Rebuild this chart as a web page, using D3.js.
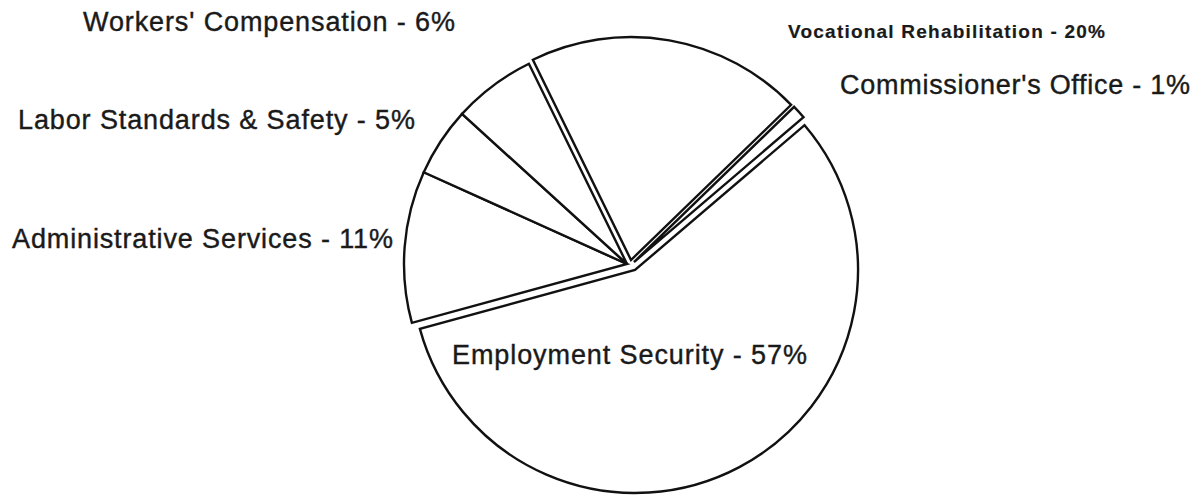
<!DOCTYPE html>
<html>
<head>
<meta charset="utf-8">
<script src="https://cdn.jsdelivr.net/npm/d3@7"></script>
<style>
  body { margin: 0; background: #fff; }
  .slice { fill: #fff; stroke: #111; stroke-width: 2.4; stroke-linejoin: miter; }
  .label { font-family: "Liberation Sans", Arial, sans-serif; font-size: 27px; fill: #1a1a1a;
           stroke: #1a1a1a; stroke-width: 0.4; }
  .label.small { font-size: 19px; font-weight: bold; stroke-width: 0.2; }
</style>
</head>
<body>
<div id="chart"></div>
<script>
// data, in drawing order (clockwise from upper right)
const categories = ["Employment Security", "Administrative Services", "Labor Standards & Safety",
                    "Workers' Compensation", "Vocational Rehabilitation", "Commissioner's Office"];
const shares = [57, 11, 5, 6, 20, 1];

// set the dimensions
const width = 1201, height = 501;
const cx = 627, cy = 264, radius = 223;
const startDeg = 49.5;

// pulled-out slices [dx, dy]
const explode = {
  "Employment Security": [8, 6],
  "Vocational Rehabilitation": [4, -4],
  "Commissioner's Office": [7, -2]
};

// where each label sits: x, baseline y, width
const labelPos = {
  "Workers' Compensation":     {x: 83,  y: 31,  w: 372},
  "Labor Standards & Safety":  {x: 18,  y: 129, w: 397},
  "Administrative Services":   {x: 12,  y: 248, w: 381},
  "Employment Security":       {x: 452, y: 364, w: 355},
  "Commissioner's Office":     {x: 840, y: 94,  w: 350},
  "Vocational Rehabilitation": {x: 788, y: 38,  w: 317, small: true}
};

const data = categories.map((c, i) => ({name: c, value: shares[i]}));

const svg = d3.select("#chart")
  .append("svg")
    .attr("width", width)
    .attr("height", height);

const start = startDeg * Math.PI / 180;
const pie = d3.pie()
  .sort(null)
  .value(d => d.value)
  .startAngle(start)
  .endAngle(start + 2 * Math.PI);

const arc = d3.arc()
  .innerRadius(0)
  .outerRadius(radius);

const g = svg.append("g")
  .attr("transform", `translate(${cx},${cy})`);

g.selectAll("path")
  .data(pie(data))
  .join("path")
    .attr("class", "slice")
    .attr("transform", d => {
      const o = explode[d.data.name] || [0, 0];
      return `translate(${o[0]},${o[1]})`;
    })
    .attr("d", arc);

// labels
svg.selectAll("text.label")
  .data(data)
  .join("text")
    .attr("class", d => labelPos[d.name].small ? "label small" : "label")
    .attr("x", d => labelPos[d.name].x)
    .attr("y", d => labelPos[d.name].y)
    .attr("textLength", d => labelPos[d.name].w)
    .attr("lengthAdjust", "spacing")
    .text(d => `${d.name} - ${d.value}%`);
</script>
</body>
</html>
